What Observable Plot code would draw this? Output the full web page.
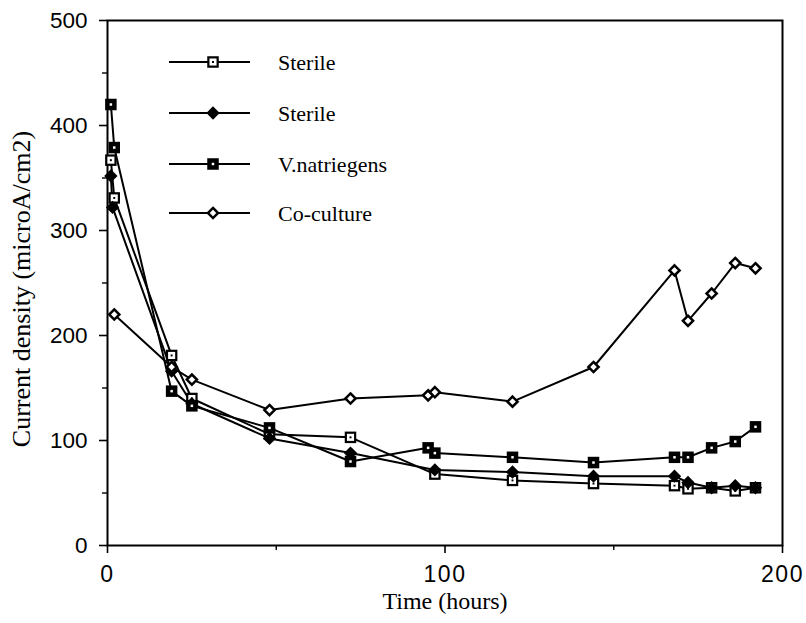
<!DOCTYPE html>
<html><head><meta charset="utf-8">
<script src="https://cdn.jsdelivr.net/npm/d3@7"></script>
<script src="https://cdn.jsdelivr.net/npm/@observablehq/plot@0.6"></script>
<style>
body{margin:0;background:#fff;}
#wrap{position:relative;width:806px;height:623px;}
#legend{position:absolute;left:0;top:0;}
g[aria-label="x-axis tick label"] text{letter-spacing:1.5px;}
</style></head><body><div id="wrap"></div>
<script>
// Data
const seriesNames = ["Sterile", "Sterile", "V.natriegens", "Co-culture"];

const sterileOpenTime  = [1, 2, 19, 25, 48, 72, 97, 120, 144, 168, 172, 179, 186, 192];
const sterileOpenValue = [367, 331, 181, 140, 106, 103, 68, 62, 59, 57, 54, 55, 52, 55];

const sterileFilledTime  = [1, 1.5, 19, 25, 48, 72, 97, 120, 144, 168, 172, 179, 186, 192];
const sterileFilledValue = [352, 322, 166, 135, 102, 88, 72, 70, 66, 66, 60, 55, 57, 55];

const natriegensTime  = [1, 2, 19, 25, 48, 72, 95, 97, 120, 144, 168, 172, 179, 186, 192];
const natriegensValue = [420, 379, 147, 133, 112, 80, 93, 88, 84, 79, 84, 84, 93, 99, 113];

const cocultureTime  = [2, 19, 25, 48, 72, 95, 97, 120, 144, 168, 172, 179, 186, 192];
const cocultureValue = [220, 170, 158, 129, 140, 143, 146, 137, 170, 262, 214, 240, 269, 264];

const yTicks = [0, 100, 200, 300, 400, 500];
const yMinorTicks = [50, 150, 250, 350, 450];
const xTicks = [0, 100, 200];
const xMinorTicks = [50, 150];
const xLabel = "Time (hours)";
const yLabel = "Current density (microA/cm2)";

const toRows = (t, v) => t.map((x, i) => ({t: x, v: v[i]}));
const so = toRows(sterileOpenTime, sterileOpenValue);
const sf = toRows(sterileFilledTime, sterileFilledValue);
const vn = toRows(natriegensTime, natriegensValue);
const cc = toRows(cocultureTime, cocultureValue);

const sans = "Liberation Sans, Arial, sans-serif";
const serif = "Liberation Serif, Times New Roman, serif";
const lw = 2;

const markerSpecs = [
  [{symbol: "square", r: 6.5, fill: "black"}, {symbol: "square", r: 4, fill: "white"}, {symbol: "square", r: 1.1, fill: "black"}],
  [{symbol: "diamond2", r: 6, fill: "black"}],
  [{symbol: "square", r: 6.5, fill: "black"}, {symbol: "square", r: 1.4, fill: "white"}],
  [{symbol: "diamond2", r: 4.6, fill: "white", stroke: "black", strokeWidth: 2.5}]
];
const allData = [so, sf, vn, cc];

const marks = [];
allData.forEach(d => marks.push(Plot.line(d, {x: "t", y: "v", stroke: "black", strokeWidth: lw})));
allData.forEach((d, i) => markerSpecs[i].forEach(s => marks.push(Plot.dot(d, {x: "t", y: "v", ...s}))));

const chart = Plot.plot({
  width: 806,
  height: 623,
  marginLeft: 107,
  marginRight: 24,
  marginTop: 20,
  marginBottom: 78,
  style: {background: "white", color: "black"},
  x: {domain: [0, 200]},
  y: {domain: [0, 500]},
  marks: [
    Plot.frame({stroke: "black", strokeWidth: 2}),
    Plot.axisY(yTicks, {tickSize: 8, tickPadding: 12, fontSize: 22.5, fontFamily: sans, label: null, strokeWidth: 1.6}),
    Plot.axisY(yMinorTicks, {tickSize: 5, tickFormat: () => "", label: null, strokeWidth: 1.4}),
    Plot.axisX(xTicks, {tickSize: 8, tickPadding: 12, fontSize: 23, fontFamily: sans, label: null, strokeWidth: 1.6}),
    Plot.axisX(xMinorTicks, {tickSize: 5, tickFormat: () => "", label: null, strokeWidth: 1.4}),
    Plot.text([yLabel], {frameAnchor: "left", textAnchor: "middle", dx: -86, dy: 6, rotate: -90, fontSize: 26, fontFamily: serif, fill: "black"}),
    Plot.text([xLabel], {frameAnchor: "bottom", dy: 63, fontSize: 24, fontFamily: serif, fill: "black"}),
    ...marks
  ]
});
const wrap = document.getElementById("wrap");
wrap.appendChild(chart);

// Legend overlay
const legendRows = [62, 113, 164, 213];
const svg = d3.select(wrap).append("svg").attr("id", "legend").attr("width", 806).attr("height", 623);
seriesNames.forEach((name, i) => {
  const y = legendRows[i];
  svg.append("line").attr("x1", 169).attr("x2", 250).attr("y1", y).attr("y2", y)
    .attr("stroke", "black").attr("stroke-width", lw);
  markerSpecs[i].forEach(s => {
    const sym = s.symbol === "square" ? d3.symbolSquare : d3.symbolDiamond2;
    svg.append("path").attr("d", d3.symbol(sym, s.r * s.r * Math.PI)())
      .attr("transform", `translate(213,${y})`)
      .attr("fill", s.fill).attr("stroke", s.stroke || "none").attr("stroke-width", s.strokeWidth || 0);
  });
  svg.append("text").attr("x", 278).attr("y", y).attr("dy", "0.35em")
    .attr("font-family", serif).attr("font-size", 22).text(name);
});
</script></body></html>
